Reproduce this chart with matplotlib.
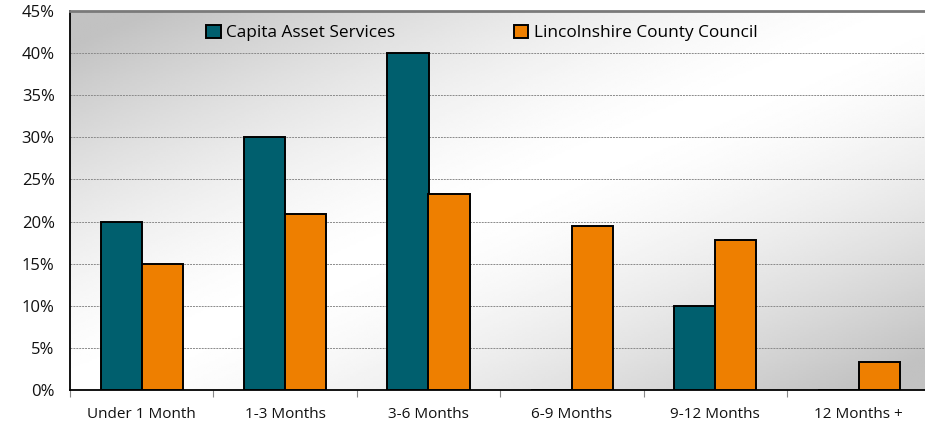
import numpy as np
import matplotlib.pyplot as plt
from matplotlib.ticker import PercentFormatter

categories = ['Under 1 Month', '1-3 Months', '3-6 Months', '6-9 Months', '9-12 Months', '12 Months +']
capita = [20, 30, 40, 0, 10, 0]
lincs = [15, 20.9, 23.3, 19.5, 17.8, 3.3]

plt.rcParams['font.family'] = ['Open Sans', 'DejaVu Sans']

fig = plt.figure(figsize=(9.25, 4.24), dpi=100)
ax = fig.add_axes([70 / 925, 34 / 424, 6 * 143.4 / 925, 379 / 424])

# diagonal gradient background: grey corners top-left / bottom-right, white band in between
u, v = np.meshgrid(np.linspace(0, 1, 300), np.linspace(1, 0, 200))
d = np.abs(u - v)
shade = 1 - 0.24 * np.clip(d * 1.1, 0, 1) ** 1.5
ax.imshow(shade, cmap='gray', vmin=0, vmax=1, extent=[0, 1, 0, 1],
          transform=ax.transAxes, aspect='auto', zorder=0, interpolation='bilinear')

x = np.arange(len(categories)) + 0.5
w = 0.286
ax.bar(x - w / 2, capita, w, color='#005F6E', edgecolor='black', linewidth=1.4,
       label='Capita Asset Services', zorder=3)
ax.bar(x + w / 2, lincs, w, color='#EE7F00', edgecolor='black', linewidth=1.4,
       label='Lincolnshire County Council', zorder=3)

ax.set_xlim(0, 6)
ax.set_ylim(0, 45)
ax.set_yticks(range(0, 46, 5))
ax.yaxis.set_major_formatter(PercentFormatter(decimals=0))
ax.yaxis.grid(True, linestyle=(0, (2, 1)), color='#8a8a8a', linewidth=0.7, zorder=1)
ax.set_axisbelow(True)

ax.set_xticks(range(0, 7))
ax.set_xticklabels([])
ax.set_xticks(x, minor=True)
ax.set_xticklabels(categories, minor=True)
ax.tick_params(axis='x', which='major', length=5, color='#888888', direction='out')
ax.tick_params(axis='x', which='minor', length=0, pad=12, labelsize=11, labelcolor='#111111')
ax.tick_params(axis='y', length=0, pad=11, labelsize=12, labelcolor='#111111')

ax.spines['left'].set_color('black')
ax.spines['left'].set_linewidth(1.3)
ax.spines['bottom'].set_color('black')
ax.spines['bottom'].set_linewidth(1.3)
ax.spines['top'].set_color('#7a7a7a')
ax.spines['top'].set_linewidth(2)
ax.spines['right'].set_visible(False)

ax.legend(loc='center left', bbox_to_anchor=(0.158, 1 - 22 / 379), ncol=2, frameon=False,
          fontsize=12.4, handlelength=0.85, handleheight=0.85, handletextpad=0.3,
          columnspacing=6.9, borderaxespad=0, borderpad=0)

fig.savefig('out.png', dpi=100)
